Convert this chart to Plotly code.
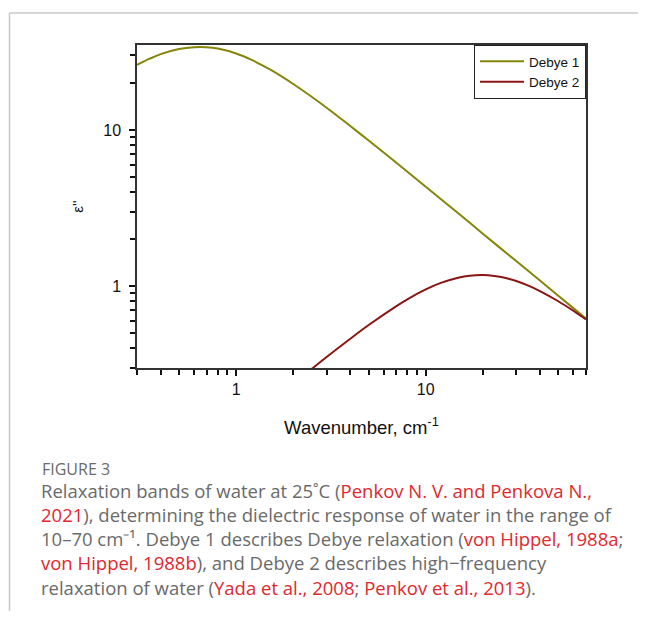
import plotly.graph_objects as go

# ---- data ----
debye1_x = [0.3, 0.35, 0.4, 0.5, 0.6, 0.7, 0.8, 1.0, 1.2, 1.5, 2.0, 3.0, 4.0, 5.0, 7.0,
            10.0, 15.0, 20.0, 30.0, 40.0, 50.0, 60.0, 70.0]
debye1_y = [26.1, 28.6, 30.6, 33.0, 33.9, 33.9, 33.2, 30.9, 28.2, 24.5, 19.7, 13.9, 10.6, 8.56, 6.17,
            4.33, 2.90, 2.17, 1.45, 1.088, 0.870, 0.725, 0.622]

debye2_x = [2.0, 2.5, 3.0, 4.0, 5.0, 7.0, 8.0, 10.0, 12.0, 15.0, 17.0, 20.0, 23.0, 25.0,
            30.0, 35.0, 40.0, 50.0, 60.0, 70.0]
debye2_y = [0.238, 0.296, 0.353, 0.462, 0.565, 0.747, 0.826, 0.955, 1.051, 1.139, 1.168, 1.180, 1.165, 1.146,
            1.081, 1.006, 0.932, 0.802, 0.697, 0.613]

series_names = ["Debye 1", "Debye 2"]
series_colors = ["#85850a", "#8b1414"]

x_major = [1, 10]
x_major_labels = ["1", "10"]
x_minor = [0.3, 0.4, 0.5, 0.6, 0.7, 0.8, 0.9, 2, 3, 4, 5, 6, 7, 8, 9, 20, 30, 40, 50, 60, 70]
y_major = [1, 10]
y_major_labels = ["1", "10"]
y_minor = [0.3, 0.4, 0.5, 0.6, 0.7, 0.8, 0.9, 2, 3, 4, 5, 6, 7, 8, 9, 20, 30]

x_title = "Wavenumber, cm<sup>-1</sup>"
y_title = "ε''"

caption_head = "FIGURE 3"
RED = "#e0282e"
def red(t):
    return f'<span style="color:{RED}">{t}</span>'
caption_lines = [
    "Relaxation bands of water at 25˚C (" + red("Penkov N. V. and Penkova N.,"),
    red("2021") + "), determining the dielectric response of water in the range of",
    "10–70 cm⁻¹. Debye 1 describes Debye relaxation (" + red("von Hippel, 1988a") + ";",
    red("von Hippel, 1988b") + "), and Debye 2 describes high−frequency",
    "relaxation of water (" + red("Yada et al., 2008") + "; " + red("Penkov et al., 2013") + ").",
]

# ---- figure ----
# the page body has an 8px margin, so the figure is drawn 8px in from the window corner
OFF = 8
W, H = 646 - 2 * OFF, 619 - 2 * OFF
# plot area in window pixels: x 137..586, y 45..368
ML, MT = 137 - OFF, 45 - OFF
MR = W - (586 - OFF)
MB = H - (368 - OFF)
PW, PH = W - ML - MR, H - MT - MB

def px_x(px):  # window pixel -> paper coordinate
    return (px - OFF - ML) / PW
def px_y(py):
    return (H - MB - (py - OFF)) / PH

fig = go.Figure()
fig.add_trace(go.Scatter(x=debye1_x, y=debye1_y, mode="lines", name=series_names[0],
                         line=dict(color=series_colors[0], width=2, shape="spline")))
fig.add_trace(go.Scatter(x=debye2_x, y=debye2_y, mode="lines", name=series_names[1],
                         line=dict(color=series_colors[1], width=2, shape="spline")))

FAM = "Arial, Liberation Sans, sans-serif"
axis_font = dict(family=FAM, size=16, color="#111")
fig.update_xaxes(type="log", range=[-0.5229, 1.8451], showline=True, mirror=True,
                 linecolor="#333", linewidth=1.5, showgrid=False, zeroline=False,
                 ticks="outside", ticklen=6, tickwidth=1.5, tickcolor="#111",
                 tickmode="array", tickvals=x_major, ticktext=x_major_labels,
                 tickfont=axis_font,
                 minor=dict(tickmode="array", tickvals=x_minor, ticks="outside",
                            ticklen=5, tickwidth=1.5, tickcolor="#111", showgrid=False),
                 title=dict(text=x_title, font=dict(family=FAM, size=18.5, color="#111"), standoff=24))
fig.update_yaxes(type="log", range=[-0.5229, 1.5441], showline=True, mirror=True,
                 linecolor="#333", linewidth=1.5, showgrid=False, zeroline=False,
                 ticks="outside", ticklen=6, tickwidth=1.5, tickcolor="#111",
                 tickmode="array", tickvals=y_major, ticktext=y_major_labels,
                 tickfont=axis_font, ticklabelstandoff=5,
                 minor=dict(tickmode="array", tickvals=y_minor, ticks="outside",
                            ticklen=5, tickwidth=1.5, tickcolor="#111", showgrid=False),
                 title=dict(text=y_title, font=dict(family=FAM, size=15, color="#111"), standoff=16))

CAP = "Open Sans"
annotations = [
    dict(text=caption_head, x=px_x(40), y=px_y(456), xref="paper", yref="paper",
         xanchor="left", yanchor="top", showarrow=False,
         font=dict(family=CAP, size=16, color="#6a6a6a")),
]
line_tops = [476, 500, 524, 548, 573]
for t, yt in zip(caption_lines, line_tops):
    annotations.append(dict(text=t, x=px_x(39), y=px_y(yt), xref="paper", yref="paper",
                            xanchor="left", yanchor="top", showarrow=False, align="left",
                            font=dict(family=CAP, size=18.5, color="#6a6a6a")))

shapes = [
    dict(type="line", xref="paper", yref="paper", x0=px_x(9.5), x1=px_x(660),
         y0=px_y(13), y1=px_y(13), line=dict(color="#c8c8c8", width=1.5)),
    dict(type="line", xref="paper", yref="paper", x0=px_x(9.5), x1=px_x(9.5),
         y0=px_y(13), y1=px_y(640), line=dict(color="#c8c8c8", width=1.5)),
]

fig.update_layout(
    width=W, height=H,
    margin=dict(l=ML, r=MR, t=MT, b=MB),
    paper_bgcolor="white", plot_bgcolor="white",
    showlegend=True,
    legend=dict(x=1, y=1, xanchor="right", yanchor="top", bgcolor="white",
                bordercolor="#222", borderwidth=1, itemwidth=44, tracegroupgap=0,
                font=dict(family=FAM, size=13.5, color="#111")),
    annotations=annotations, shapes=shapes,
)

fig.write_html("out.html")
